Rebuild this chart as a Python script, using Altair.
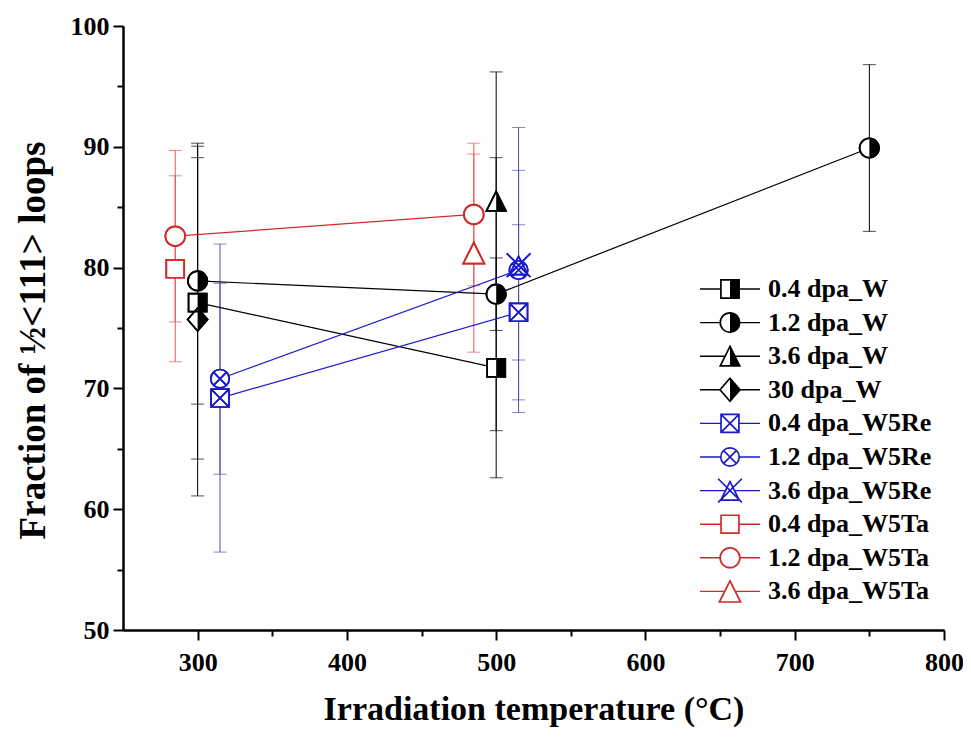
import altair as alt
import pandas as pd

# ---------------- data ----------------
series = ["0.4 dpa_W", "1.2 dpa_W", "3.6 dpa_W", "30 dpa_W",
          "0.4 dpa_W5Re", "1.2 dpa_W5Re", "3.6 dpa_W5Re",
          "0.4 dpa_W5Ta", "1.2 dpa_W5Ta", "3.6 dpa_W5Ta"]
temps = [[300, 500], [300, 500, 750], [500], [300],
         [315, 515], [315, 515], [515],
         [285], [285, 485], [485]]
fractions = [[77.1, 71.7], [78.9, 77.8, 89.9], [85.5], [75.7],
             [69.2, 76.3], [70.8, 79.8], [80.2],
             [79.9], [82.6, 84.4], [81.2]]
errors = [[12.95, 9.1], [10.2, 11.3, 6.9], [10.7], [14.6],
          [12.75, 7.25], [7.9, 11.8], [7.85],
          [7.7], [7.1, 5.9], [8.2]]

x_major = [300, 400, 500, 600, 700, 800]
x_minor = [350, 450, 550, 650, 750]
y_major = [50, 60, 70, 80, 90, 100]
y_minor = [55, 65, 75, 85, 95]

# ---------------- styles ----------------
BLACK, BLUE, RED = "#000000", "#1a1acc", "#d42828"
EBLACK, EBLUE, ERED = "#000000", "#5050b4", "#e05a5a"
colors = [BLACK] * 4 + [BLUE] * 3 + [RED] * 3
ecolors = [EBLACK] * 4 + [EBLUE] * 3 + [ERED] * 3

SQ = "M-1,-1H1V1H-1Z"
CI = "M-1,0A1,1 0 1,1 1,0A1,1 0 1,1 -1,0Z"
TR = "M0,-1L1,1H-1Z"
DI = "M0,-1.15L1,0L0,1.15L-1,0Z"
SQ_H = "M0,-1H1V1H0Z"
CI_H = "M0,-1A1,1 0 0,1 0,1Z"
TR_H = "M0,-1L1,1H0Z"
DI_H = "M0,-1.15L1,0L0,1.15Z"
SQX = SQ + "M-1,-1L1,1M1,-1L-1,1"
CIX = CI + "M-0.71,-0.71L0.71,0.71M0.71,-0.71L-0.71,0.71"
TRX = "M0,-0.75L0.78,0.8H-0.78Z" + "M-1,-1L1,1M1,-1L-1,1"
shapes = [SQ, CI, TR, DI, SQX, CIX, TRX, SQ, CI, TR]
halves = [SQ_H, CI_H, TR_H, DI_H, "", "", "", "", "", ""]
sizes = [330, 380, 380, 400, 320, 340, 560, 320, 390, 450]

rows = []
for i, s in enumerate(series):
    for t, f, e in zip(temps[i], fractions[i], errors[i]):
        rows.append(dict(series=s, x=t, y=f, lo=f - e, hi=f + e,
                         color=colors[i], ecolor=ecolors[i],
                         shape=shapes[i], half=halves[i], size=sizes[i]))
df = pd.DataFrame(rows)

W, H = 821, 604
xscale = alt.Scale(domain=[250, 800], nice=False, zero=False)
yscale = alt.Scale(domain=[50, 100], nice=False, zero=False)

FONT = "Liberation Serif"
X = alt.X("x:Q", scale=xscale, axis=None)
Y = alt.Y("y:Q", scale=yscale, axis=None)

err = alt.Chart(df).mark_rule(strokeWidth=1).encode(
    x=X, y=alt.Y("lo:Q", scale=yscale, axis=None), y2="hi:Q",
    color=alt.Color("ecolor:N", scale=None))
cap_lo = alt.Chart(df).mark_tick(orient="horizontal", size=13, thickness=1).encode(
    x=X, y=alt.Y("lo:Q", scale=yscale, axis=None),
    color=alt.Color("ecolor:N", scale=None))
cap_hi = alt.Chart(df).mark_tick(orient="horizontal", size=13, thickness=1).encode(
    x=X, y=alt.Y("hi:Q", scale=yscale, axis=None),
    color=alt.Color("ecolor:N", scale=None))
lines = alt.Chart(df).mark_line(strokeWidth=1.2).encode(
    x=X, y=Y, detail="series:N", order="x:Q",
    color=alt.Color("color:N", scale=None))
mk_bg = alt.Chart(df).mark_point(strokeWidth=1.7, opacity=1).encode(
    x=X, y=Y, shape=alt.Shape("shape:N", scale=None),
    size=alt.Size("size:Q", scale=None),
    fill=alt.value("white"), stroke=alt.Stroke("color:N", scale=None))
mk_half = alt.Chart(df).transform_filter("datum.half != ''").mark_point(
    filled=True, strokeWidth=0, opacity=1).encode(
    x=X, y=Y, shape=alt.Shape("half:N", scale=None),
    size=alt.Size("size:Q", scale=None),
    fill=alt.value("black"))
mk_line = alt.Chart(df).mark_point(strokeWidth=1.7, opacity=1, filled=False).encode(
    x=X, y=Y, shape=alt.Shape("shape:N", scale=None),
    size=alt.Size("size:Q", scale=None),
    stroke=alt.Stroke("color:N", scale=None))

axis_common = dict(grid=False, domainColor="black", domainWidth=2,
                   tickColor="black", tickWidth=2,
                   labelFont=FONT, labelFontWeight="bold", labelColor="black",
                   titleFont=FONT, titleFontWeight="bold", titleColor="black")
major = alt.Chart(df).mark_point(opacity=0).encode(
    x=alt.X("x:Q", scale=xscale, axis=alt.Axis(
        values=x_major, title="Irradiation temperature (°C)", tickSize=10,
        labelFontSize=26, labelPadding=9, titleFontSize=34, titlePadding=17,
        labelFlush=False, **axis_common)),
    y=alt.Y("y:Q", scale=yscale, axis=alt.Axis(
        values=y_major, title="Fraction of ½<111> loops", tickSize=10, orient="left",
        labelFontSize=26, labelPadding=4, titleFontSize=37, titlePadding=18,
        titleY=314, labelFlush=False, **axis_common)))
minor = alt.Chart(df).mark_point(opacity=0).encode(
    x=alt.X("x:Q", scale=xscale, axis=alt.Axis(
        values=x_minor, title=None, labels=False, tickSize=6, orient="bottom",
        **axis_common)),
    y=alt.Y("y:Q", scale=yscale, axis=alt.Axis(
        values=y_minor, title=None, labels=False, tickSize=6, orient="left",
        **axis_common)))

# ---------------- legend (pixel positions inside plot area) ----------------
leg = pd.DataFrame(dict(label=series, color=colors, shape=shapes, half=halves, size=sizes))
leg["i"] = range(len(series))
leg["ly"] = 263 + leg["i"] * 33.6
leg["lx0"] = 577
leg["lx1"] = 637
leg["lm"] = 607
leg["lt"] = 645
LX = lambda f: alt.X(f"{f}:Q", scale=None, axis=None)
LY = alt.Y("ly:Q", scale=None, axis=None)
leg_line = alt.Chart(leg).mark_rule(strokeWidth=1.4).encode(
    x=LX("lx0"), x2="lx1:Q", y=LY, color=alt.Color("color:N", scale=None))
leg_bg = alt.Chart(leg).mark_point(strokeWidth=1.7, opacity=1).encode(
    x=LX("lm"), y=LY, shape=alt.Shape("shape:N", scale=None),
    size=alt.Size("size:Q", scale=None),
    fill=alt.value("white"), stroke=alt.Stroke("color:N", scale=None))
leg_half = alt.Chart(leg).transform_filter("datum.half != ''").mark_point(
    filled=True, strokeWidth=0, opacity=1).encode(
    x=LX("lm"), y=LY, shape=alt.Shape("half:N", scale=None),
    size=alt.Size("size:Q", scale=None), fill=alt.value("black"))
leg_text = alt.Chart(leg).mark_text(align="left", baseline="middle", font=FONT,
                                    fontWeight="bold", fontSize=26, color="black").encode(
    x=LX("lt"), y=LY, text="label:N")

chart = alt.layer(
    major, minor, err, cap_lo, cap_hi, lines, mk_bg, mk_half, mk_line,
    leg_line, leg_bg, leg_half, leg_text
).resolve_axis(x="independent", y="independent").properties(
    width=W, height=H,
    autosize=alt.AutoSizeParams(type="none"),
    padding={"left": 115, "top": 18, "right": 19, "bottom": 100},
).configure_view(stroke=None)

chart.save("out.html", embed_options={"renderer": "svg", "actions": False})
